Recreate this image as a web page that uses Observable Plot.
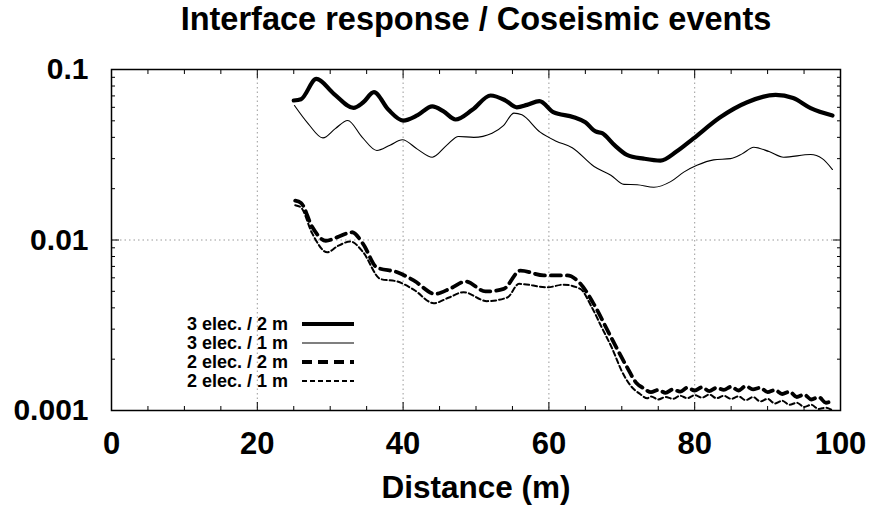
<!DOCTYPE html>
<html>
<head>
<meta charset="utf-8">
<script src="https://cdn.jsdelivr.net/npm/d3@7"></script>
<script src="https://cdn.jsdelivr.net/npm/@observablehq/plot@0.6"></script>
<style>
  html, body { margin: 0; padding: 0; background: #fff; }
  #chart { width: 874px; height: 512px; }
</style>
</head>
<body>
<div id="chart"></div>
<script>
const title = "Interface response / Coseismic events";
const xLabel = "Distance (m)";
const seriesNames = ["3 elec. / 2 m", "3 elec. / 1 m", "2 elec. / 2 m", "2 elec. / 1 m"];

const xTickLabels = [0, 20, 40, 60, 80, 100];
const xMinorTicks = [5, 10, 15, 25, 30, 35, 45, 50, 55, 65, 70, 75, 85, 90, 95];
const yTickLabels = [0.001, 0.01, 0.1];
const yMinorTicks = [0.002, 0.003, 0.004, 0.005, 0.006, 0.007, 0.008, 0.009,
                     0.02, 0.03, 0.04, 0.05, 0.06, 0.07, 0.08, 0.09];
const xGrid = [20, 40, 60, 80];
const yGrid = [0.01];

// 3 elec. / 2 m
const dist1 = [25, 26, 28.1, 30.5, 33.2, 34.5, 36, 38, 40, 42, 44, 45.5, 47.2, 49.5, 52, 54, 55.6, 57, 58.7, 60.6, 63.4, 65, 66.4, 67.3, 69, 70.7, 73, 75.3, 77.5, 79.8, 83.5, 87.2, 91.1, 93.5, 95.9, 98.9];
const resp1 = [0.0658, 0.067, 0.088, 0.072, 0.0596, 0.064, 0.0736, 0.058, 0.0502, 0.054, 0.0607, 0.057, 0.0509, 0.058, 0.0704, 0.066, 0.060, 0.062, 0.0652, 0.0562, 0.0525, 0.049, 0.0433, 0.0423, 0.036, 0.0316, 0.030, 0.0292, 0.033, 0.0393, 0.0525, 0.0643, 0.071, 0.068, 0.0593, 0.0537];

// 3 elec. / 1 m
const dist2 = [25.1, 27, 29, 30.7, 32.4, 34.4, 36.4, 38.2, 39.9, 42, 44, 46, 47.6, 49.7, 52.2, 53.8, 55.2, 56.3, 58.8, 61, 63.2, 66.2, 68.5, 70.3, 72.1, 74.4, 76.7, 78.5, 80.3, 82.6, 84.9, 86.5, 88.1, 90.2, 92.2, 95.9, 97.5, 98.9];
const resp2 = [0.0615, 0.048, 0.0397, 0.045, 0.0502, 0.040, 0.0335, 0.036, 0.0387, 0.034, 0.0306, 0.036, 0.0405, 0.040, 0.0423, 0.047, 0.0555, 0.0542, 0.0429, 0.038, 0.0348, 0.027, 0.024, 0.0212, 0.0211, 0.0204, 0.022, 0.025, 0.0274, 0.0295, 0.030, 0.032, 0.035, 0.033, 0.0306, 0.0317, 0.030, 0.0259];

// 2 elec. / 2 m
const dist3 = [25.2, 26, 27.5, 29.4, 31, 33, 34.5, 36.4, 39.2, 41.5, 44.4, 46.5, 48.6, 51.3, 53.8, 56.1, 59.3, 62.5, 64.3, 66.1, 68.5, 70.7, 72, 73, 74, 75, 76, 77, 78, 79, 80, 81, 82, 83, 84, 85, 86, 87, 88, 89, 90, 91, 92, 93, 94, 95, 96, 97, 98, 98.9];
const resp3 = [0.017, 0.0165, 0.012, 0.0099, 0.0104, 0.0111, 0.0095, 0.0069, 0.00647, 0.00578, 0.00483, 0.0052, 0.00571, 0.00499, 0.00517, 0.00662, 0.0062, 0.0062, 0.00556, 0.00425, 0.0027, 0.0018, 0.00145, 0.00135, 0.00128, 0.00132, 0.00127, 0.00133, 0.00129, 0.00136, 0.00131, 0.00137, 0.0013, 0.00136, 0.00132, 0.00138, 0.00131, 0.00139, 0.00133, 0.00136, 0.00128, 0.00132, 0.00125, 0.00129, 0.0012, 0.00124, 0.00116, 0.0012, 0.00111, 0.00115];

// 2 elec. / 1 m
const dist4 = [25.2, 26, 27.5, 29.6, 31, 32.8, 34.5, 36.9, 39.2, 41.5, 44.2, 46.3, 48.3, 51.5, 54.3, 55.9, 59.8, 62, 64.3, 65.8, 67.2, 68.7, 70, 71.2, 72.5, 73.5, 74, 75, 76, 77, 78, 79, 80, 81, 82, 83, 84, 85, 86, 87, 88, 89, 90, 91, 92, 93, 94, 95, 96, 97, 98, 98.9];
const resp4 = [0.016, 0.0155, 0.011, 0.00847, 0.0092, 0.0098, 0.0085, 0.0059, 0.00571, 0.0051, 0.00426, 0.0046, 0.00494, 0.00438, 0.0046, 0.00553, 0.00528, 0.00547, 0.00517, 0.0041, 0.0031, 0.0023, 0.0017, 0.0014, 0.00125, 0.00118, 0.00121, 0.00116, 0.0012, 0.00117, 0.00122, 0.00118, 0.00123, 0.00119, 0.00124, 0.00118, 0.00122, 0.00117, 0.00121, 0.00115, 0.0012, 0.00113, 0.00117, 0.0011, 0.00114, 0.00108, 0.00111, 0.00105, 0.00108, 0.00102, 0.00104, 0.001];

const styles = [
  {strokeWidth: 4.2, strokeDasharray: null},
  {strokeWidth: 1.1, strokeDasharray: null},
  {strokeWidth: 3.8, strokeDasharray: "10,6"},
  {strokeWidth: 2, strokeDasharray: "5,3"}
];

const dists = [dist1, dist2, dist3, dist4];
const resps = [resp1, resp2, resp3, resp4];
const series = dists.map((d, i) => d.map((x, j) => ({x, y: resps[i][j], s: seriesNames[i]})));

const font = "'Liberation Sans', Arial, Helvetica, sans-serif";
const gridStyle = {stroke: "#9a9a9a", strokeOpacity: 1, strokeWidth: 1, strokeDasharray: "1.5,3"};

const plot = Plot.plot({
  width: 874,
  height: 512,
  marginLeft: 111,
  marginRight: 34,
  marginTop: 69,
  marginBottom: 102,
  style: {fontFamily: font, fontWeight: "bold", background: "#fff", color: "#000"},
  x: {type: "linear", domain: [0, 100], label: null},
  y: {type: "log", domain: [0.001, 0.1], label: null},
  marks: [
    Plot.gridX(xGrid, gridStyle),
    Plot.gridY(yGrid, gridStyle),
    ...series.map((d, i) => Plot.line(d, {
      x: "x", y: "y", curve: "monotone-x", stroke: "#000",
      strokeWidth: styles[i].strokeWidth,
      strokeDasharray: styles[i].strokeDasharray,
      strokeLinejoin: "round"
    })),
    // inward ticks
    Plot.axisX(xTickLabels, {anchor: "bottom", tickSize: 8, dy: -8, fill: "none", label: null, stroke: "#000"}),
    Plot.axisX(xMinorTicks, {anchor: "bottom", tickSize: 4, dy: -4, fill: "none", label: null, stroke: "#000"}),
    Plot.axisX(xTickLabels, {anchor: "top", tickSize: 8, dy: 8, fill: "none", label: null, stroke: "#000"}),
    Plot.axisX(xMinorTicks, {anchor: "top", tickSize: 4, dy: 4, fill: "none", label: null, stroke: "#000"}),
    Plot.axisY(yTickLabels, {anchor: "left", tickSize: 8, dx: 8, fill: "none", label: null, stroke: "#000"}),
    Plot.axisY(yMinorTicks, {anchor: "left", tickSize: 4, dx: 4, fill: "none", label: null, stroke: "#000"}),
    Plot.axisY(yTickLabels, {anchor: "right", tickSize: 8, dx: -8, fill: "none", label: null, stroke: "#000"}),
    Plot.axisY(yMinorTicks, {anchor: "right", tickSize: 4, dx: -4, fill: "none", label: null, stroke: "#000"}),
    // tick labels
    Plot.axisX(xTickLabels, {anchor: "bottom", tickSize: 0, tickPadding: 21, fontSize: 31, fontWeight: "bold", label: null, fill: "#000"}),
    Plot.axisY(yTickLabels, {anchor: "left", tickSize: 0, tickPadding: 23, fontSize: 30, fontWeight: "bold", label: null, fill: "#000", tickFormat: d => String(d)}),
    Plot.frame({stroke: "#000", strokeWidth: 1.5}),
    Plot.text([xLabel], {frameAnchor: "bottom", dy: 77.5, lineAnchor: "middle", fontSize: 31.5, fontWeight: "bold", fill: "#000"}),
    Plot.text([title], {frameAnchor: "top", dy: -50, lineAnchor: "middle", fontSize: 32.5, fontWeight: "bold", fill: "#000"})
  ]
});

// Legend (key) drawn inside the plot area, gnuplot style
const svg = d3.select(plot);
const key = svg.append("g").attr("font-family", font).attr("font-weight", "bold").attr("font-size", 18);
seriesNames.forEach((name, i) => {
  const yy = 324 + i * 19;
  key.append("text").attr("x", 288).attr("y", yy).attr("dy", "0.35em")
    .attr("text-anchor", "end").attr("fill", "#000").text(name);
  key.append("line").attr("x1", 302).attr("x2", 354).attr("y1", yy).attr("y2", yy)
    .attr("stroke", "#000").attr("stroke-width", styles[i].strokeWidth)
    .attr("stroke-dasharray", styles[i].strokeDasharray);
});

document.getElementById("chart").appendChild(plot);
</script>
</body>
</html>
